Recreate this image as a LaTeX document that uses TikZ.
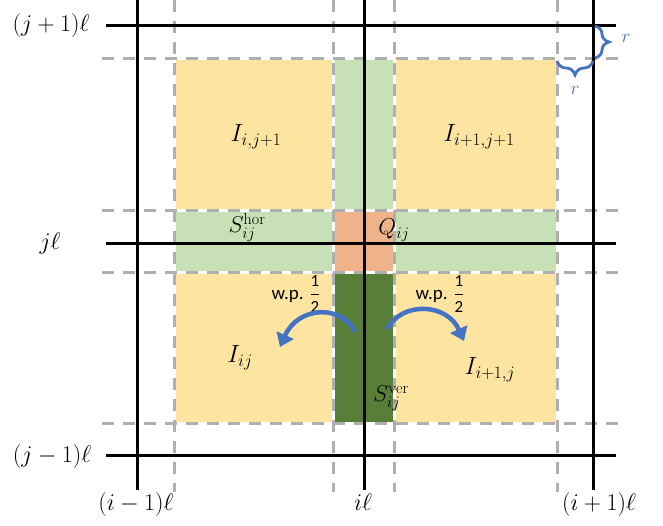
\RequirePackage{fix-cm}
\documentclass[tikz,border=0pt]{standalone}
\usepackage{fontspec}
\newfontfamily\wpfont{Carlito}
\usetikzlibrary{arrows.meta,decorations.pathreplacing}
\definecolor{cyel}{HTML}{FDE5A1}
\definecolor{cgrn}{HTML}{C7E0B5}
\definecolor{corg}{HTML}{EEB38A}
\definecolor{cdkg}{HTML}{587E38}
\definecolor{cblu}{HTML}{4472C4}
\definecolor{cgry}{HTML}{AFAFAF}
\tikzset{
  fillbox/.style={draw=white,line width=3pt},
  gridd/.style={draw=cgry,line width=3pt,dash pattern=on 12pt off 9pt},
  gridk/.style={draw=black,line width=3pt},
  axlab/.style={inner sep=0pt,font=\fontsize{24}{28}\selectfont},
  inlab/.style={inner sep=0pt,font=\fontsize{25}{29}\selectfont},
  smlab/.style={inner sep=0pt,font=\fontsize{23}{27}\selectfont},
  wplab/.style={inner sep=0pt,font=\fontsize{19}{21}\selectfont\wpfont},
  barrow/.style={draw=cblu,line width=4.5pt,-{Triangle[length=13pt,width=18pt]}},
  bracestyle/.style={draw=cblu,line width=2.8pt,decorate,decoration={brace,amplitude=14pt}},
  rlab/.style={inner sep=0pt,text=cblu,font=\fontsize{19}{22}\selectfont}
}
\begin{document}
\begin{tikzpicture}[x=1pt,y=-1pt]
\useasboundingbox (0,0) rectangle (663,525);
% fills
\path[fillbox,fill=cyel] (174,58) rectangle (333,210);
\path[fillbox,fill=cyel] (394,58) rectangle (557,210);
\path[fillbox,fill=cyel] (174,272) rectangle (333,423);
\path[fillbox,fill=cyel] (394,272) rectangle (557,423);
\path[fillbox,fill=cgrn] (333,58) rectangle (394,210);
\path[fillbox,fill=cgrn] (174,210) rectangle (333,272);
\path[fillbox,fill=cgrn] (394,210) rectangle (557,272);
\path[fillbox,fill=corg] (333,210) rectangle (394,272);
\path[fillbox,fill=cdkg] (333,272) rectangle (394,423);
% dashed grid
\foreach \x in {174,333,394,557} \draw[gridd] (\x,0) -- (\x,492);
\foreach \y in {58,210,272,423} \draw[gridd] (102,\y) -- (618,\y);
% black grid
\foreach \x in {137,364,593} \draw[gridk] (\x,0) -- (\x,490);
\foreach \y in {25,243,455} \draw[gridk] (106,\y) -- (616,\y);
% axis labels
\node[axlab] (jp) at (51,25) {$(j+1)\ell$};
\node[axlab] (j) at (50,243) {$j\ell$};
\node[axlab] (jm) at (52,456) {$(j-1)\ell$};
\node[axlab] (im) at (136,504) {$(i-1)\ell$};
\node[axlab] (i) at (363,502) {$i\ell$};
\node[axlab] (ip) at (599,504) {$(i+1)\ell$};
% interior labels
\node[inlab] (Itl) at (256,137) {$I_{i,j+1}$};
\node[inlab] (Itr) at (479,137) {$I_{i+1,j+1}$};
\node[inlab] (Ibl) at (240,358) {$I_{ij}$};
\node[inlab] (Ibr) at (490,370) {$I_{i+1,j}$};
\node[smlab] (Sh) at (247,227) {$S_{ij}^{\mathrm{hor}}$};
\node[smlab] (Q) at (394,230) {$Q_{ij}$};
\node[smlab] (Sv) at (391,398) {$S_{ij}^{\mathrm{ver}}$};
% w.p. labels
\node[wplab] (wpl) at (296,294) {w.p. $\displaystyle\frac{\hbox{\fontsize{17}{19}\wpfont 1}}{\hbox{\fontsize{17}{19}\wpfont 2}}$};
\node[wplab] (wpr) at (440,294) {w.p. $\displaystyle\frac{\hbox{\fontsize{17}{19}\wpfont 1}}{\hbox{\fontsize{17}{19}\wpfont 2}}$};
% arrows
\coordinate (al0) at (355,332);
\coordinate (al1) at (280,347);
\coordinate (ar0) at (387,329);
\coordinate (ar1) at (464,341);
\draw[barrow] (al0) .. controls (342,304) and (298,306) .. (al1);
\draw[barrow] (ar0) .. controls (402,301) and (447,303) .. (ar1);
% braces
\coordinate (bv0) at (595,26);
\coordinate (bv1) at (595,58);
\coordinate (bh0) at (593,61);
\coordinate (bh1) at (557,61);
\draw[bracestyle] (bv0) -- (bv1);
\draw[bracestyle] (bh0) -- (bh1);
\node[rlab] (r1) at (626,38) {$r$};
\node[rlab] (r2) at (575,90) {$r$};
\end{tikzpicture}
\end{document}
